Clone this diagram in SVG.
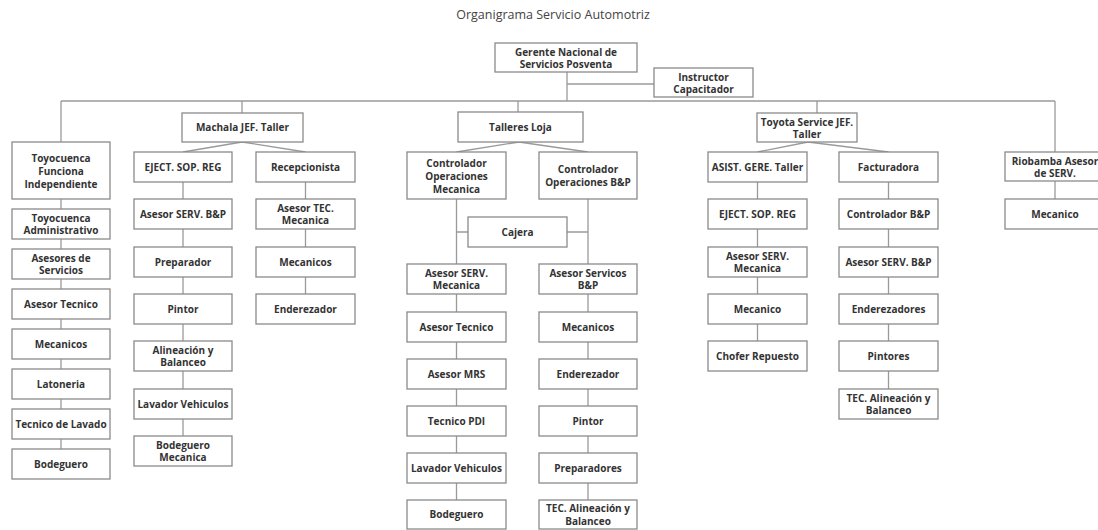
<svg xmlns="http://www.w3.org/2000/svg" width="1098" height="530" viewBox="0 0 1098 530">
  <style>
    .bg { fill: #ffffff; }
    .title { font-family: "Open Sans", "Liberation Sans", sans-serif; font-size: 12.5px; fill: #444444; text-anchor: middle; }
    .node rect { fill: #ffffff; stroke: #8a8a8a; stroke-width: 1.3; }
    .node text { font-family: "Open Sans", "Liberation Sans", sans-serif; font-size: 10px; font-weight: 700; fill: #333333; text-anchor: middle; }
    .links path { fill: none; stroke: #9a9a9a; stroke-width: 1.3; }
  </style>
  <rect class="bg" x="0" y="0" width="1098" height="530"/>
  <text class="title" x="553" y="19">Organigrama Servicio Automotriz</text>

  <!-- connectors -->
  <g id="connectors" class="links">
    <path d="M567 72 V101"/>
    <path d="M567 84 H654"/>
    <path d="M61 101 H1055"/>
    <path d="M61 101 V449"/>
    <path d="M242 101 V113"/>
    <path d="M518 101 V112"/>
    <path d="M817 101 V113"/>
    <path d="M1055 101 V199"/>
    <!-- Machala -->
    <path d="M183 152 L242 142 L305.5 152"/>
    <path d="M183 182 V436"/>
    <path d="M305.5 182 V294"/>
    <!-- Loja -->
    <path d="M456.5 152 L519 142 L588 152"/>
    <path d="M456.5 199 V500"/>
    <path d="M588 199 V500"/>
    <path d="M456.5 232 H588"/>
    <!-- Toyota Service -->
    <path d="M757.5 152 L808 142 L888.5 152"/>
    <path d="M757.5 182 V341"/>
    <path d="M888.5 182 V389"/>
  </g>

  <!-- top -->
  <g id="gerente" class="node"><rect x="495" y="43" width="142" height="29"/><text><tspan x="566" y="56">Gerente Nacional de</tspan><tspan x="566" y="68">Servicios Posventa</tspan></text></g>
  <g id="instructor" class="node"><rect x="654" y="68" width="99" height="29"/><text><tspan x="703.5" y="80.6">Instructor</tspan><tspan x="703.5" y="93">Capacitador</tspan></text></g>

  <!-- Toyocuenca -->
  <g id="toyocuenca-independiente" class="node"><rect x="12" y="142" width="98" height="57"/><text><tspan x="61" y="161.5">Toyocuenca</tspan><tspan x="61" y="174.5">Funciona</tspan><tspan x="61" y="187.5">Independiente</tspan></text></g>
  <g id="toyocuenca-administrativo" class="node"><rect x="12" y="209" width="98" height="30"/><text><tspan x="61" y="221.6">Toyocuenca</tspan><tspan x="61" y="234.4">Administrativo</tspan></text></g>
  <g id="toyocuenca-asesores" class="node"><rect x="12" y="249" width="98" height="30"/><text><tspan x="61" y="261.6">Asesores de</tspan><tspan x="61" y="274.4">Servicios</tspan></text></g>
  <g id="toyocuenca-asesor-tecnico" class="node"><rect x="12" y="289" width="98" height="30"/><text x="61" y="307.6">Asesor Tecnico</text></g>
  <g id="toyocuenca-mecanicos" class="node"><rect x="12" y="329" width="98" height="30"/><text x="61" y="347.6">Mecanicos</text></g>
  <g id="toyocuenca-latoneria" class="node"><rect x="12" y="369" width="98" height="30"/><text x="61" y="387.6">Latoneria</text></g>
  <g id="toyocuenca-lavado" class="node"><rect x="12" y="409" width="98" height="30"/><text x="61" y="427.6">Tecnico de Lavado</text></g>
  <g id="toyocuenca-bodeguero" class="node"><rect x="12" y="449" width="98" height="30"/><text x="61" y="467.6">Bodeguero</text></g>

  <!-- Machala -->
  <g id="machala" class="node"><rect x="182" y="113" width="121" height="29"/><text x="242.5" y="131.2">Machala JEF. Taller</text></g>
  <g id="machala-eject" class="node"><rect x="134" y="152" width="98" height="30"/><text x="183" y="170.6">EJECT. SOP. REG</text></g>
  <g id="machala-asesor-bp" class="node"><rect x="134" y="199" width="98" height="30"/><text x="183" y="217.6">Asesor SERV. B&amp;P</text></g>
  <g id="machala-preparador" class="node"><rect x="134" y="247" width="98" height="30"/><text x="183" y="265.6">Preparador</text></g>
  <g id="machala-pintor" class="node"><rect x="134" y="294" width="98" height="30"/><text x="183" y="312.6">Pintor</text></g>
  <g id="machala-alineacion" class="node"><rect x="134" y="341" width="98" height="30"/><text><tspan x="183" y="353.6">Alineación y</tspan><tspan x="183" y="366.4">Balanceo</tspan></text></g>
  <g id="machala-lavador" class="node"><rect x="134" y="389" width="98" height="30"/><text x="183" y="407.6">Lavador Vehiculos</text></g>
  <g id="machala-bodeguero" class="node"><rect x="134" y="436" width="98" height="30"/><text><tspan x="183" y="448.6">Bodeguero</tspan><tspan x="183" y="461.4">Mecanica</tspan></text></g>
  <g id="machala-recepcionista" class="node"><rect x="256" y="152" width="99" height="30"/><text x="305.5" y="170.6">Recepcionista</text></g>
  <g id="machala-asesor-tec" class="node"><rect x="256" y="199" width="99" height="30"/><text><tspan x="305.5" y="211.6">Asesor TEC.</tspan><tspan x="305.5" y="224.4">Mecanica</tspan></text></g>
  <g id="machala-mecanicos" class="node"><rect x="256" y="247" width="99" height="30"/><text x="305.5" y="265.6">Mecanicos</text></g>
  <g id="machala-enderezador" class="node"><rect x="256" y="294" width="99" height="30"/><text x="305.5" y="312.6">Enderezador</text></g>

  <!-- Talleres Loja -->
  <g id="loja" class="node"><rect x="458" y="112" width="125" height="30"/><text x="520.5" y="130.6">Talleres Loja</text></g>
  <g id="loja-ctrl-mecanica" class="node"><rect x="407" y="152" width="99" height="47"/><text><tspan x="456.5" y="166.5">Controlador</tspan><tspan x="456.5" y="179.5">Operaciones</tspan><tspan x="456.5" y="192.5">Mecanica</tspan></text></g>
  <g id="loja-ctrl-bp" class="node"><rect x="539" y="152" width="98" height="47"/><text><tspan x="588" y="173">Controlador</tspan><tspan x="588" y="186">Operaciones B&amp;P</tspan></text></g>
  <g id="loja-cajera" class="node"><rect x="468" y="217" width="99" height="30"/><text x="517.5" y="235.6">Cajera</text></g>
  <g id="loja-asesor-mecanica" class="node"><rect x="407" y="264" width="99" height="30"/><text><tspan x="456.5" y="276.6">Asesor SERV.</tspan><tspan x="456.5" y="289.4">Mecanica</tspan></text></g>
  <g id="loja-asesor-tecnico" class="node"><rect x="407" y="312" width="99" height="30"/><text x="456.5" y="330.6">Asesor Tecnico</text></g>
  <g id="loja-asesor-mrs" class="node"><rect x="407" y="359" width="99" height="30"/><text x="456.5" y="377.6">Asesor MRS</text></g>
  <g id="loja-tecnico-pdi" class="node"><rect x="407" y="406" width="99" height="30"/><text x="456.5" y="424.6">Tecnico PDI</text></g>
  <g id="loja-lavador" class="node"><rect x="407" y="453" width="99" height="30"/><text x="456.5" y="471.6">Lavador Vehiculos</text></g>
  <g id="loja-bodeguero" class="node"><rect x="407" y="500" width="99" height="29"/><text x="456.5" y="518.2">Bodeguero</text></g>
  <g id="loja-asesor-bp" class="node"><rect x="539" y="264" width="98" height="30"/><text><tspan x="588" y="276.6">Asesor Servicos</tspan><tspan x="588" y="289.4">B&amp;P</tspan></text></g>
  <g id="loja-mecanicos" class="node"><rect x="539" y="312" width="98" height="30"/><text x="588" y="330.6">Mecanicos</text></g>
  <g id="loja-enderezador" class="node"><rect x="539" y="359" width="98" height="30"/><text x="588" y="377.6">Enderezador</text></g>
  <g id="loja-pintor" class="node"><rect x="539" y="406" width="98" height="30"/><text x="588" y="424.6">Pintor</text></g>
  <g id="loja-preparadores" class="node"><rect x="539" y="453" width="98" height="30"/><text x="588" y="471.6">Preparadores</text></g>
  <g id="loja-alineacion" class="node"><rect x="539" y="500" width="98" height="29"/><text><tspan x="588" y="512.4">TEC. Alineación y</tspan><tspan x="588" y="525">Balanceo</tspan></text></g>

  <!-- Toyota Service -->
  <g id="toyota" class="node"><rect x="757" y="113" width="100" height="29"/><text><tspan x="807" y="125.5">Toyota Service JEF.</tspan><tspan x="807" y="138">Taller</tspan></text></g>
  <g id="toyota-asist" class="node"><rect x="708" y="152" width="99" height="30"/><text x="757.5" y="170.6">ASIST. GERE. Taller</text></g>
  <g id="toyota-eject" class="node"><rect x="708" y="199" width="99" height="30"/><text x="757.5" y="217.6">EJECT. SOP. REG</text></g>
  <g id="toyota-asesor-mecanica" class="node"><rect x="708" y="247" width="99" height="30"/><text><tspan x="757.5" y="259.6">Asesor SERV.</tspan><tspan x="757.5" y="272.4">Mecanica</tspan></text></g>
  <g id="toyota-mecanico" class="node"><rect x="708" y="294" width="99" height="30"/><text x="757.5" y="312.6">Mecanico</text></g>
  <g id="toyota-chofer" class="node"><rect x="708" y="341" width="99" height="30"/><text x="757.5" y="359.6">Chofer Repuesto</text></g>
  <g id="toyota-facturadora" class="node"><rect x="839" y="152" width="99" height="30"/><text x="888.5" y="170.6">Facturadora</text></g>
  <g id="toyota-ctrl-bp" class="node"><rect x="839" y="199" width="99" height="30"/><text x="888.5" y="217.6">Controlador B&amp;P</text></g>
  <g id="toyota-asesor-bp" class="node"><rect x="839" y="247" width="99" height="30"/><text x="888.5" y="265.6">Asesor SERV. B&amp;P</text></g>
  <g id="toyota-enderezadores" class="node"><rect x="839" y="294" width="99" height="30"/><text x="888.5" y="312.6">Enderezadores</text></g>
  <g id="toyota-pintores" class="node"><rect x="839" y="341" width="99" height="30"/><text x="888.5" y="359.6">Pintores</text></g>
  <g id="toyota-alineacion" class="node"><rect x="839" y="389" width="99" height="30"/><text><tspan x="888.5" y="401.6">TEC. Alineación y</tspan><tspan x="888.5" y="414.4">Balanceo</tspan></text></g>

  <!-- Riobamba -->
  <g id="riobamba" class="node"><rect x="1005" y="152" width="100" height="29"/><text><tspan x="1055" y="164.6">Riobamba Asesor</tspan><tspan x="1055" y="177">de SERV.</tspan></text></g>
  <g id="riobamba-mecanico" class="node"><rect x="1005" y="199" width="100" height="30"/><text x="1055" y="217.6">Mecanico</text></g>
</svg>
